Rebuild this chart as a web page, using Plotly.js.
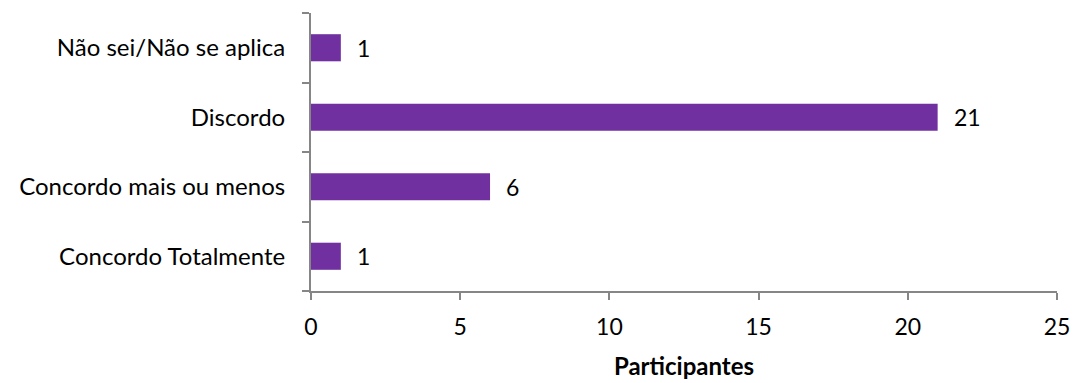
<!DOCTYPE html>
<html><head><meta charset="utf-8">
<script src="https://cdn.plot.ly/plotly-3.0.1.min.js"></script>
<style>html,body{margin:0;padding:0;background:#fff}#chart{width:1075px;height:383px}</style>
</head><body><div id="chart"></div>
<script>
const categories = ["Concordo Totalmente", "Concordo mais ou menos", "Discordo", "Não sei/Não se aplica"];
const values = [1, 6, 21, 1];
const xTicks = [0, 5, 10, 15, 20, 25];
const FONT = "Lato, 'Open Sans', sans-serif";

const annotations = values.map((v, i) => ({
  x: v, y: categories[i], xref: "x", yref: "y",
  text: String(v), showarrow: false, xanchor: "left", xshift: 14,
  font: {family: FONT, size: 23, color: "#000"}
}));

Plotly.newPlot("chart", [{
  type: "bar", orientation: "h",
  x: values, y: categories,
  marker: {color: "#7030A0"},
  hoverinfo: "none"
}], {
  width: 1075, height: 383,
  margin: {l: 311, r: 18, t: 13, b: 92},
  bargap: 0.61,
  plot_bgcolor: "#fff", paper_bgcolor: "#fff",
  showlegend: false,
  xaxis: {
    range: [0, 25], tickvals: xTicks, ticktext: xTicks.map(String),
    showgrid: false, zeroline: false,
    showline: true, linecolor: "#868686", linewidth: 2,
    ticks: "outside", ticklen: 7, tickcolor: "#868686", tickwidth: 2,
    tickfont: {family: FONT, size: 23, color: "#000"},
    ticklabelstandoff: 7,
    title: {text: "<b>Participantes</b>", font: {family: FONT, size: 24, color: "#000"}, standoff: 20}
  },
  yaxis: {
    type: "category", categoryorder: "array", categoryarray: categories,
    range: [-0.5, 3.5],
    showgrid: false, zeroline: false,
    showline: true, linecolor: "#868686", linewidth: 2,
    ticks: "outside", tickson: "boundaries", ticklen: 7, tickcolor: "#868686", tickwidth: 2,
    tickfont: {family: FONT, size: 24, color: "#000"},
    ticklabelstandoff: 19
  },
  annotations: annotations
}, {displayModeBar: false, staticPlot: true});
</script></body></html>
